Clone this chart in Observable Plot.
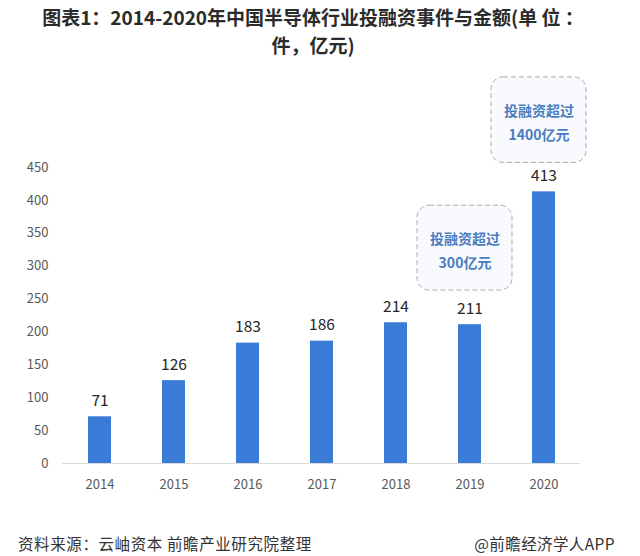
<!DOCTYPE html>
<html>
<head>
<meta charset="utf-8">
<script src="https://cdn.jsdelivr.net/npm/d3@7"></script>
<script src="https://cdn.jsdelivr.net/npm/@observablehq/plot@0.6"></script>
<style>
  html, body { margin: 0; padding: 0; background: #ffffff; }
  #wrap { width: 640px; height: 556px; position: relative; font-family: "Noto Sans CJK SC", "Noto Sans", sans-serif; }
  #title { height: 60px; box-sizing: border-box; padding-top: 3px; padding-right: 14px; text-align: center; font-size: 19px; font-weight: bold; color: #2b2b2b; line-height: 28px; white-space: nowrap; }
  #chart { height: 440px; }
  #footer { position: absolute; left: 0; top: 532px; width: 640px; font-size: 15.5px; color: #333; }
  #footer .l { position: absolute; left: 18px; letter-spacing: 0.6px; }
  #footer .r { position: absolute; right: 25px; letter-spacing: 0.4px; }
</style>
</head>
<body>
<div id="wrap">
  <div id="title">图表1：2014-2020年中国半导体行业投融资事件与金额(单 位 ：<br>件，亿元)</div>
  <div id="chart"></div>
  <div id="footer"><span class="l">资料来源：云岫资本 前瞻产业研究院整理</span><span class="r">@前瞻经济学人APP</span></div>
</div>
<script>
const years = ["2014", "2015", "2016", "2017", "2018", "2019", "2020"];
const counts = [71, 126, 183, 186, 214, 211, 413];
const yTicks = [0, 50, 100, 150, 200, 250, 300, 350, 400, 450];

const noteYears = ["2019", "2020"];
const noteLow = [263, 457];
const noteHigh = [392, 587];
const noteTexts = ["投融资超过\n300亿元", "投融资超过\n1400亿元"];

const data = years.map((y, i) => ({year: y, count: counts[i]}));
const notes = noteYears.map((y, i) => ({year: y, y1: noteLow[i], y2: noteHigh[i], mid: (noteLow[i] + noteHigh[i]) / 2, text: noteTexts[i]}));

const chart = Plot.plot({
  width: 640,
  height: 440,
  marginLeft: 62,
  marginRight: 60,
  marginTop: 107,
  marginBottom: 37,
  style: {fontFamily: "'Noto Sans CJK SC', 'Noto Sans', sans-serif", background: "transparent"},
  x: {domain: years, paddingInner: 0.69, paddingOuter: 0.345, label: null},
  y: {domain: [0, 450], ticks: yTicks, label: null},
  marks: [
    Plot.axisX({tickSize: 0, tickPadding: 16, fontSize: 13, color: "#595959", label: null}),
    Plot.axisY({ticks: yTicks, tickSize: 0, tickPadding: 14, fontSize: 13, color: "#595959", label: null}),
    Plot.barY(data, {x: "year", y: "count", fill: "#3b7bd8"}),
    Plot.ruleY([0], {stroke: "#d9d9d9", strokeWidth: 1.2}),
    Plot.text(data, {x: "year", y: "count", text: d => String(d.count), dy: -16, fontSize: 15.5, fill: "#262626"}),
    Plot.barY(notes, {x: "year", y1: "y1", y2: "y2", insetLeft: -41, insetRight: -31, rx: 12, fill: "#f8fafd", stroke: "#a9acb3", strokeDasharray: "5,3", strokeWidth: 1}),
    Plot.text(notes, {x: "year", y: "mid", dx: -5, text: "text", lineHeight: 1.75, fontSize: 14, fontWeight: "bold", fill: "#4a7cc0"})
  ]
});
document.getElementById("chart").appendChild(chart);
</script>
</body>
</html>
